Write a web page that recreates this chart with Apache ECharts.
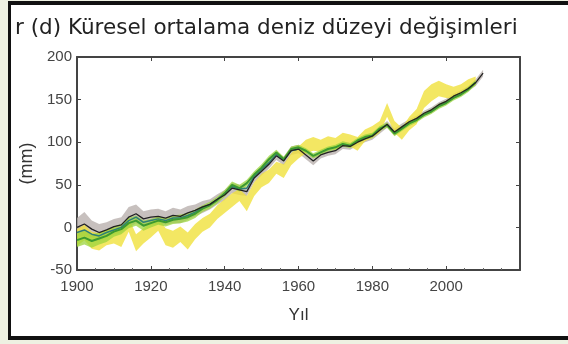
<!DOCTYPE html>
<html>
<head>
<meta charset="utf-8">
<script src="https://cdn.jsdelivr.net/npm/echarts@6/dist/echarts.min.js"></script>
<style>
  html, body { margin: 0; padding: 0; }
  body { width: 568px; height: 344px; background: #eef1e2; position: relative; overflow: hidden; }
  #frame { position: absolute; left: 8px; top: 1px; width: 560px; height: 339px; background: #fff;
           border-left: 3px solid #111; border-top: 4px solid #111; border-bottom: 4px solid #111; box-sizing: border-box; }
  #chart { position: absolute; left: 0; top: 0; width: 568px; height: 344px; }
</style>
</head>
<body>
<div id="frame"></div>
<div id="chart"></div>
<script>
// years, every 2 years 1900..2010
const YEARS = [1900,1902,1904,1906,1908,1910,1912,1914,1916,1918,1920,1922,1924,1926,1928,1930,1932,1934,1936,1938,
  1940,1942,1944,1946,1948,1950,1952,1954,1956,1958,1960,1962,1964,1966,1968,1970,1972,1974,1976,1978,
  1980,1982,1984,1986,1988,1990,1992,1994,1996,1998,2000,2002,2004,2006,2008,2010];

// black line (gray band)
const BLACK = [0,4,-2,-6,-3,1,3,12,16,10,12,13,11,14,13,17,20,24,27,33,
  38,46,44,42,58,66,74,84,78,90,92,85,78,85,88,90,96,95,100,104,
  107,114,121,112,118,124,128,134,138,144,148,154,158,163,170,181];
const GRAY_SPREAD = [11,14,10,10,9,9,9,12,11,9,9,9,8,9,8,8,7,7,6,6,
  6,6,6,5,5,5,5,5,5,5,5,5,5,4,4,4,4,4,4,4,
  4,4,4,4,4,3,3,3,3,3,3,3,3,3,4,4];

// yellow band
const YELLOW = [-12,-6,-15,-17,-12,-10,-13,3,-18,-10,-3,4,-11,-14,-8,-16,-5,3,8,18,
  25,32,38,28,45,55,60,70,66,80,88,95,98,96,100,98,104,102,98,108,
  112,118,138,118,110,122,130,150,158,163,160,158,162,168,172];
const YELLOW_SPREAD = [10,9,10,10,9,9,10,8,10,9,9,8,10,10,9,10,9,8,8,8,
  8,8,7,9,8,8,8,7,8,7,7,8,8,7,7,7,7,7,8,7,
  7,7,8,7,7,8,9,10,10,9,8,7,6,6,5];

// green line & band
const GREEN = [-15,-12,-16,-13,-10,-5,-2,5,8,2,5,8,6,9,10,12,16,22,26,32,
  40,50,46,52,62,70,80,88,80,92,94,90,84,88,92,94,98,96,102,106,
  108,116,120,110,116,122,126,132,136,142,146,152,156,162,170];
const GREEN_SPREAD = [8,8,8,7,7,6,6,6,6,6,5,5,5,5,5,5,5,4,4,4,
  4,4,4,4,4,4,4,3,3,3,3,3,3,3,3,3,3,3,3,3,
  3,3,3,3,3,3,3,3,3,3,3,3,3,3,3];

// teal line
const TEAL = [-6,-3,-8,-10,-6,-3,0,8,12,6,8,10,8,11,11,14,18,23,27,33,
  40,48,45,46,60,68,76,86,79,90,92];

const Y_TICKS = { min: -50, max: 200, interval: 50 };
const X_TICKS = { min: 1900, max: 2020, interval: 20 };

function pairs(vals) { return vals.map((v, i) => [YEARS[i], v]); }

// uncertainty band as one polygon: upper edge forward, lower edge back
function band(name, center, spread, color, z) {
  const upper = center.map((v, i) => [YEARS[i], v + spread[i]]);
  const lower = center.map((v, i) => [YEARS[i], v - spread[i]]).reverse();
  return {
    name, type: 'custom', z, silent: true,
    data: [0],
    renderItem: (params, api) => ({
      type: 'polygon',
      shape: { points: upper.concat(lower).map(p => api.coord(p)) },
      style: { fill: color }
    })
  };
}

const chart = echarts.init(document.getElementById('chart'), null, { renderer: 'canvas' });
const font = 'Liberation Sans, Arial, sans-serif';
const axisLine = { show: true, onZero: false, lineStyle: { color: '#444', width: 2 } };
const tick = { show: true, inside: true, length: 4, lineStyle: { color: '#444', width: 1 } };

chart.setOption({
  backgroundColor: 'transparent',
  animation: false,
  title: {
    text: 'r (d) Küresel ortalama deniz düzeyi değişimleri',
    left: 10, top: 12,
    textStyle: { fontFamily: 'DejaVu Sans, Verdana, sans-serif', fontSize: 21.5, fontWeight: 'normal', color: '#222' }
  },
  grid: { left: 77, top: 57, right: 48, bottom: 74 },
  xAxis: [
    { type: 'value', ...X_TICKS, position: 'bottom',
      name: 'Yıl', nameLocation: 'middle', nameGap: 37,
      nameTextStyle: { fontFamily: font, fontSize: 17, color: '#333' },
      axisLine, axisTick: tick, splitLine: { show: false },
      minorTick: { show: true, splitNumber: 4, length: 2, lineStyle: { color: '#666' } },
      axisLabel: { fontFamily: font, fontSize: 15, color: '#444', margin: 9, showMaxLabel: false,
        formatter: v => String(v) } },
    { type: 'value', ...X_TICKS, position: 'top',
      axisLine, axisTick: tick, splitLine: { show: false }, axisLabel: { show: false } }
  ],
  yAxis: [
    { type: 'value', ...Y_TICKS, position: 'left',
      name: '(mm)', nameLocation: 'middle', nameGap: 40, nameRotate: 90,
      nameTextStyle: { fontFamily: font, fontSize: 18, color: '#333' },
      axisLine, axisTick: tick, splitLine: { show: false },
      axisLabel: { fontFamily: font, fontSize: 15, color: '#444', margin: 5 } },
    { type: 'value', ...Y_TICKS, position: 'right',
      axisLine, axisTick: tick, splitLine: { show: false }, axisLabel: { show: false } }
  ],
  series: [
    band('gray', BLACK, GRAY_SPREAD, 'rgba(185,176,174,0.8)', 1),
    band('yellow', YELLOW, YELLOW_SPREAD, 'rgba(240,225,60,0.8)', 2),
    band('greenBand', GREEN, GREEN_SPREAD, 'rgba(155,212,60,0.75)', 3),
    { name: 'teal', type: 'line', symbol: 'none', z: 4, data: pairs(TEAL),
      lineStyle: { color: '#2e7f78', width: 1.5 } },
    { name: 'green', type: 'line', symbol: 'none', z: 5, data: pairs(GREEN),
      lineStyle: { color: '#3c9a30', width: 2 } },
    { name: 'black', type: 'line', symbol: 'none', z: 6, data: pairs(BLACK),
      lineStyle: { color: '#222', width: 1.3 } }
  ]
});
</script>
</body>
</html>
